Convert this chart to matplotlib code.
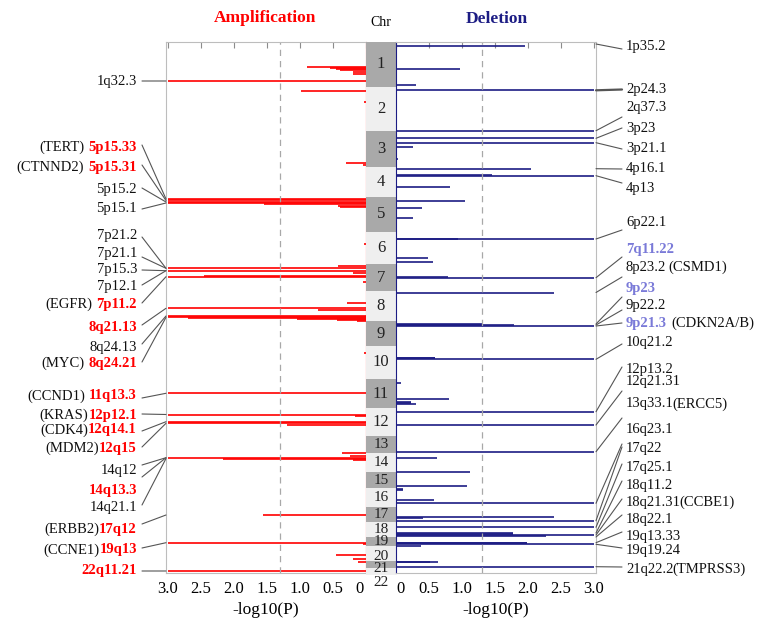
import numpy as np
import matplotlib
matplotlib.use("Agg")
import matplotlib.pyplot as plt
from matplotlib.patches import ConnectionPatch
from matplotlib.transforms import offset_copy

plt.rcParams["font.family"] = ["Liberation Serif", "DejaVu Serif"]

# Chromosome layout along the genome axis (top = 0)
chroms = [str(i) for i in range(1, 23)]
chr_sizes = [45, 44, 36, 30, 35, 32, 27, 30, 25, 33, 29, 28, 17, 19, 16, 19, 15, 15, 9, 15, 7, 7]

# Amplification peaks: genome position, -log10(P)
amp_pos = [24.7, 26.0, 27.0, 28.0, 29.5, 31.5, 39, 48.7, 59.7, 121.3, 122.5,
           156.5, 158, 159.5, 161, 162, 163.5, 164.5, 202,
           223.7, 226.3, 228.7, 231.3, 234, 234.7, 239.7,
           260.7, 266.3, 267.5, 274, 275.3, 276, 277, 278, 279, 310.7,
           351.3, 372.5, 374, 379.7, 381.3, 382.5,
           411.3, 413.7, 415.7, 416.5, 417.5, 473, 500.7, 501.7,
           513, 517.3, 519.7, 529]
amp_val = [0.90, 0.55, 0.45, 0.40, 0.20, 0.20, 3.0, 0.99, 0.03, 0.30, 0.05,
           3.0, 3.0, 3.0, 3.0, 1.55, 0.42, 0.40, 0.03,
           0.42, 3.0, 3.0, 0.20, 2.45, 3.0, 0.05,
           0.29, 3.0, 0.73, 3.0, 3.0, 2.7, 1.05, 0.44, 0.14, 0.03,
           3.0, 3.0, 0.17, 3.0, 3.0, 1.2,
           0.37, 0.24, 3.0, 2.17, 0.20, 1.56, 3.0, 0.05,
           0.46, 0.20, 0.12, 3.0]

# Deletion peaks
del_pos = [4, 27.3, 43, 48.3, 88.7, 96.3, 100.7, 105.3, 116.7,
           126.7, 133, 133.7, 145.3, 159.3, 165.7, 175.7,
           196.5, 197, 216.3, 220, 235, 235.7, 250.5,
           281.5, 282.5, 283, 284, 315.7, 316.3, 317.3, 341.3,
           357.3, 359.7, 360.5, 362, 369.7, 383, 409.7, 415.7,
           430, 444, 447.3, 448, 458, 461.3,
           474.7, 475.5, 478.7, 485.3, 491.3, 492, 493, 493.8,
           500.7, 501.3, 502.3, 504, 519.7, 520.3, 524.7]
del_val = [1.95, 0.97, 0.30, 3.0, 3.0, 3.0, 3.0, 0.25, 0.03,
           2.04, 1.45, 3.0, 0.82, 1.05, 0.40, 0.26,
           0.94, 3.0, 0.48, 0.56, 0.79, 3.0, 2.39,
           1.31, 1.31, 1.79, 3.0, 0.59, 0.59, 3.0, 0.07,
           0.81, 0.23, 0.23, 0.30, 3.0, 3.0, 3.0, 0.62,
           1.12, 1.07, 0.10, 0.10, 0.58, 3.0,
           2.39, 0.41, 3.0, 3.0, 1.77, 1.77, 3.0, 2.28,
           1.99, 1.99, 3.0, 0.38, 0.63, 0.52, 3.0]

# Left labels: gene, cytoband, significant, label y (px), line start y (px), target position
amp_genes = ["", "(TERT)", "(CTNND2)", "", "", "", "", "", "", "(EGFR)",
             "", "", "(MYC)", "(CCND1)", "(KRAS)", "(CDK4)", "(MDM2)",
             "", "", "", "(ERBB2)", "(CCNE1)", ""]
amp_gap = [0, 3, 3, 0, 0, 0, 0, 0, 0, 3, 0, 0, 3, 3, 0, 0, 0, 0, 0, 0, 0, 0, 0]
amp_bands = ["1q32.3", "5p15.33", "5p15.31", "5p15.2", "5p15.1", "7p21.2", "7p21.1",
             "7p15.3", "7p12.1", "7p11.2", "8q21.13", "8q24.13", "8q24.21", "11q13.3",
             "12p12.1", "12q14.1", "12q15", "14q12", "14q13.3", "14q21.1", "17q12",
             "19q13", "22q11.21"]
amp_sig = [0, 1, 1, 0, 0, 0, 0, 0, 0, 1, 1, 0, 1, 1, 1, 1, 1, 0, 1, 0, 1, 1, 1]
amp_lab_y = [81.7, 147, 167.3, 189.3, 208.3, 235, 254, 269.3, 286.7, 304.3, 327.3,
             347.3, 363.3, 396, 415, 430, 448.3, 470.7, 490.7, 508, 529.3, 550, 570.7]
amp_line_y = [81, 145, 165, 188, 209, 237, 257, 270, 285, 303, 325, 344, 362,
              398, 414, 431, 447, 465, 477, 505, 524, 548, 571]
amp_target = [39, 157, 158.5, 160, 161, 226.3, 226.3, 228.7, 228.7, 234.7, 266.3,
              274, 275.3, 351.3, 372.5, 379.7, 381.3, 415.7, 415.7, 416.5, 473, 500.7, 529]

# Right labels
del_bands = ["1p35.2", "2p24.3", "2q37.3", "3p23", "3p21.1", "4p16.1", "4p13", "6p22.1",
             "7q11.22", "8p23.2", "9p23", "9p22.2", "9p21.3", "10q21.2", "12p13.2",
             "12q21.31", "13q33.1", "16q23.1", "17q22", "17q25.1", "18q11.2",
             "18q21.31", "18q22.1", "19q13.33", "19q19.24", "21q22.2"]
del_genes = ["", "", "", "", "", "", "", "", "", "(CSMD1)", "", "", "(CDKN2A/B)", "",
             "", "", "(ERCC5)", "", "", "", "", "(CCBE1)", "", "", "", "(TMPRSS3)"]
del_gap = [0, 0, 0, 0, 0, 0, 0, 0, 0, 1.5, 0, 0, 3, 0,
           0, 0, -1, 0, 0, 0, 0, -1, 0, 0, 0, -1]
del_sig = [0, 0, 0, 0, 0, 0, 0, 0, 1, 0, 1, 0, 1, 0, 0, 0, 0, 0, 0, 0, 0, 0, 0, 0, 0, 0]
del_lab_y = [46.7, 89.3, 107.3, 128.3, 148.3, 168.3, 188.3, 222.7, 249.3, 267.3, 288.3,
             306, 323.3, 342.7, 369.3, 381.7, 404, 430, 448.3, 467.3, 485, 502.7,
             519.3, 536.7, 550.7, 569.3]
del_line_y = [49, 89.5, 117, 128, 149, 169, 183, 230, 257, 277, 297, 310, 323, 344,
              367, 391, 418, 444, 447, 464, 481, 499, 515, 532, 548, 567]
del_target = [2, 48.3, 88.7, 96.3, 100.7, 126.7, 133.7, 197, 235.7, 250.5, 282, 283,
              284, 317.3, 369.7, 383, 409.7, 461.3, 478.7, 485.3, 491, 493, 495,
              500.7, 502.3, 524.7]

RED = "#ff0000"
NAVY = "#1c1c84"
LIGHTBLUE = "#7a7ad8"
GRID = "#bdbdbd"

W, H = 764, 622
fig = plt.figure(figsize=(W / 100, H / 100), dpi=100)


def px_axes(x0, y0, x1, y1, **kw):
    return fig.add_axes([x0 / W, 1 - y1 / H, (x1 - x0) / W, (y1 - y0) / H], **kw)


axL = px_axes(166, 42, 366, 573)
axC = px_axes(366, 42, 396, 575)
axR = px_axes(396, 42, 596, 573)
ov = px_axes(0, 0, W, H)
ov.set_xlim(0, W)
ov.set_ylim(H, 0)
ov.axis("off")

ticks = [3.0, 2.5, 2.0, 1.5, 1.0, 0.5, 0]
tick_lbls = ["3.0", "2.5", "2.0", "1.5", "1.0", "0.5", "0"]

# Amplification panel
axL.hlines(amp_pos, 0, amp_val, color=RED, lw=1.2)
axL.set_xlim(3.03, 0)
axL.set_ylim(531, 0)
axL.axvline(-np.log10(0.05), color="#a8a8a8", ls=(0, (5, 4)), lw=0.9)
for s in ["top", "left", "bottom"]:
    axL.spines[s].set_color(GRID)
axL.spines["right"].set_color(RED)

# Deletion panel
axR.hlines(del_pos, 0, del_val, color=NAVY, lw=1.2)
axR.set_xlim(0, 3.03)
axR.set_ylim(531, 0)
axR.axvline(-np.log10(0.05), color="#a8a8a8", ls=(0, (5, 4)), lw=0.9)
for s in ["top", "right", "bottom"]:
    axR.spines[s].set_color(GRID)
axR.spines["left"].set_color(NAVY)

for ax in (axL, axR):
    ax.set_xticks(ticks)
    ax.set_xticklabels(tick_lbls, fontsize=12)
    ax.set_yticks([])
    ax.tick_params(axis="x", top=True, bottom=False, direction="in",
                   length=4, color="#8c8c8c", pad=6)
    ax.set_xlabel("-log10(P)", fontsize=12.5, labelpad=3)

# "0" labels sit slightly away from the chromosome column
lbl0 = axL.get_xticklabels()[-1]
lbl0.set_transform(offset_copy(lbl0.get_transform(), fig=fig, x=-7, units="dots"))
lbl0r = axR.get_xticklabels()[-1]
lbl0r.set_transform(offset_copy(lbl0r.get_transform(), fig=fig, x=4, units="dots"))

# Chromosome column
starts = np.concatenate([[0], np.cumsum(chr_sizes)[:-1]])
band_cols = ["#a9a9a9" if i % 2 == 0 else "#efefef" for i in range(len(chroms))]
axC.barh(starts, 1, height=chr_sizes, left=0, align="edge", color=band_cols, lw=0)
axC.set_xlim(0, 1)
axC.set_ylim(sum(chr_sizes), 0)
axC.axis("off")
nudge = [0] * 19 + [2.5, 3.5, 10.5]
for i, c in enumerate(chroms):
    axC.text(0.5, starts[i] + chr_sizes[i] / 2 + nudge[i], c, ha="center",
             va="center", fontsize=12 if chr_sizes[i] > 20 else 11, color="#222222")

# Titles
ov.text(265, 18, "Amplification", color=RED, fontsize=12.5, weight="bold",
        ha="center", va="center")
ov.text(497, 19, "Deletion", color=NAVY, fontsize=12.5, weight="bold",
        ha="center", va="center")
ov.text(381, 23, "Chr", fontsize=10, ha="center", va="center")

LINE_C = "#555555"

# Left labels
for gene, gap, band, sig, ly, sy, tgt in zip(amp_genes, amp_gap, amp_bands, amp_sig,
                                              amp_lab_y, amp_line_y, amp_target):
    t = ov.text(137, ly, band, ha="right", va="center", fontsize=10.5,
                color=RED if sig else "#111111", weight="bold" if sig else "normal")
    if gene:
        ov.annotate(gene, xy=(0, 0.5), xycoords=t, xytext=(-gap, 0),
                    textcoords="offset points", ha="right", va="center",
                    fontsize=10.5, color="#111111")
    con = ConnectionPatch(xyA=(142, sy), coordsA=ov.transData,
                          xyB=(3.03, tgt), coordsB=axL.transData,
                          color=LINE_C, lw=0.8)
    fig.add_artist(con)

# Right labels
for gene, gap, band, sig, ly, sy, tgt in zip(del_genes, del_gap, del_bands, del_sig,
                                              del_lab_y, del_line_y, del_target):
    t = ov.text(626, ly, band, ha="left", va="center", fontsize=10.5,
                color=LIGHTBLUE if sig else "#111111", weight="bold" if sig else "normal")
    if gene:
        ov.annotate(gene, xy=(1, 0.5), xycoords=t, xytext=(gap, 0),
                    textcoords="offset points", ha="left", va="center",
                    fontsize=10.5, color="#111111")
    con = ConnectionPatch(xyA=(622, sy), coordsA=ov.transData,
                          xyB=(3.03, tgt), coordsB=axR.transData,
                          color=LINE_C, lw=1.6 if band == "2p24.3" else 0.8)
    fig.add_artist(con)

fig.savefig("out.png", dpi=100)
